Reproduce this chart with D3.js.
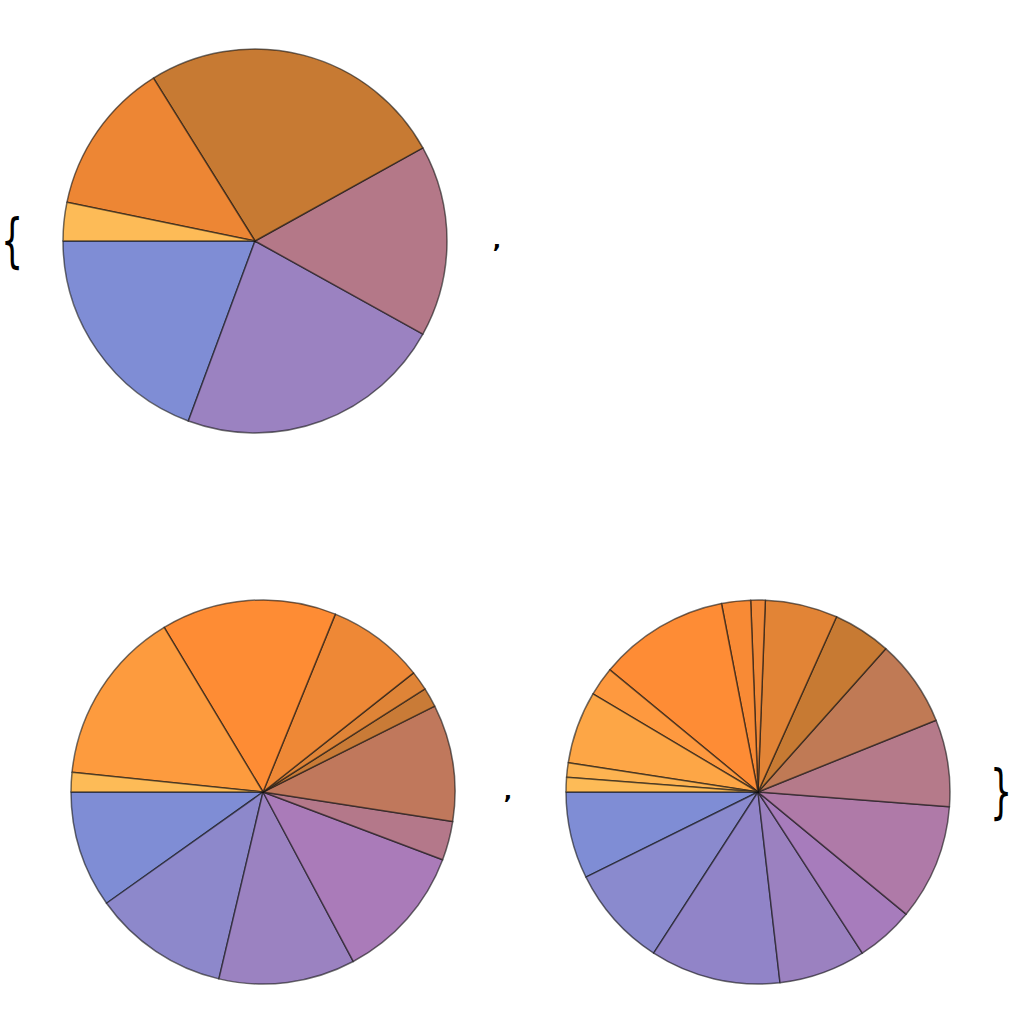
<!DOCTYPE html>
<html>
<head>
<meta charset="utf-8">
<script src="https://cdn.jsdelivr.net/npm/d3@7"></script>
<style>
  html, body { margin: 0; padding: 0; background: #fff; }
  svg { display: block; }
</style>
</head>
<body>
<svg id="chart" width="1014" height="1034"></svg>
<script>
// ---- data ----
const pie1Values = [6, 7, 5, 8, 4, 1];
const pie2Values = [6, 7, 7, 7, 2, 6, 1, 1, 5, 9, 9, 1];
const pie3Values = [6, 7, 9, 6, 4, 8, 6, 6, 4, 5, 1, 2, 9, 2, 5, 1, 1];

// ---- palettes (style) ----
const pie1Colors = ["#7f8dd5", "#9b82c1", "#b47888", "#c77a33", "#ed8634", "#fdbb57"];
const pie2Colors = ["#7f8dd5", "#8d88cb", "#9b82c1", "#aa7bb9", "#b4788a", "#c0785c",
                    "#c97b37", "#df8437", "#ee8836", "#fe8c34", "#fd9b3e", "#fdbb57"];
const pie3Colors = ["#7f8dd5", "#8a8ace", "#9184c8", "#9b81c0", "#a77cbc", "#af7aa8",
                    "#b57a8a", "#c07a55", "#c77a33", "#e28436", "#ef8838", "#f88a35",
                    "#fe8c35", "#fe993f", "#fda646", "#fdb351", "#fdbb57"];

const svg = d3.select("#chart");
const R = 192;

const pieGen = d3.pie().sort(null)
  .startAngle(3 * Math.PI / 2)
  .endAngle(-Math.PI / 2);
const arcGen = d3.arc().innerRadius(0).outerRadius(R);

function drawPie(values, colors, cx, cy) {
  const g = svg.append("g").attr("transform", `translate(${cx},${cy})`);
  g.selectAll("path")
    .data(pieGen(values))
    .join("path")
    .attr("d", arcGen)
    .attr("fill", (d, i) => colors[i])
    .attr("stroke", "#111")
    .attr("stroke-opacity", 0.6)
    .attr("stroke-width", 1.5)
    .attr("stroke-linejoin", "round");
}

drawPie(pie1Values, pie1Colors, 255, 241);
drawPie(pie2Values, pie2Colors, 263, 792);
drawPie(pie3Values, pie3Colors, 758, 792);

// list punctuation
const font = "'DejaVu Sans', 'Liberation Sans', sans-serif";
function brace(ch, x, y) {
  svg.append("text").attr("x", 0).attr("y", 0)
    .attr("text-anchor", "middle").attr("dominant-baseline", "central")
    .attr("font-family", font).attr("font-size", 58)
    .attr("transform", `translate(${x},${y}) scale(0.6,1)`)
    .text(ch);
}
brace("{", 12, 241);
brace("}", 1001, 792);
svg.append("text").attr("x", 497).attr("y", 248)
  .attr("text-anchor", "middle")
  .attr("font-family", font).attr("font-size", 22).attr("font-weight", "bold")
  .text(",");
svg.append("text").attr("x", 508).attr("y", 799)
  .attr("text-anchor", "middle")
  .attr("font-family", font).attr("font-size", 22).attr("font-weight", "bold")
  .text(",");
</script>
</body>
</html>
